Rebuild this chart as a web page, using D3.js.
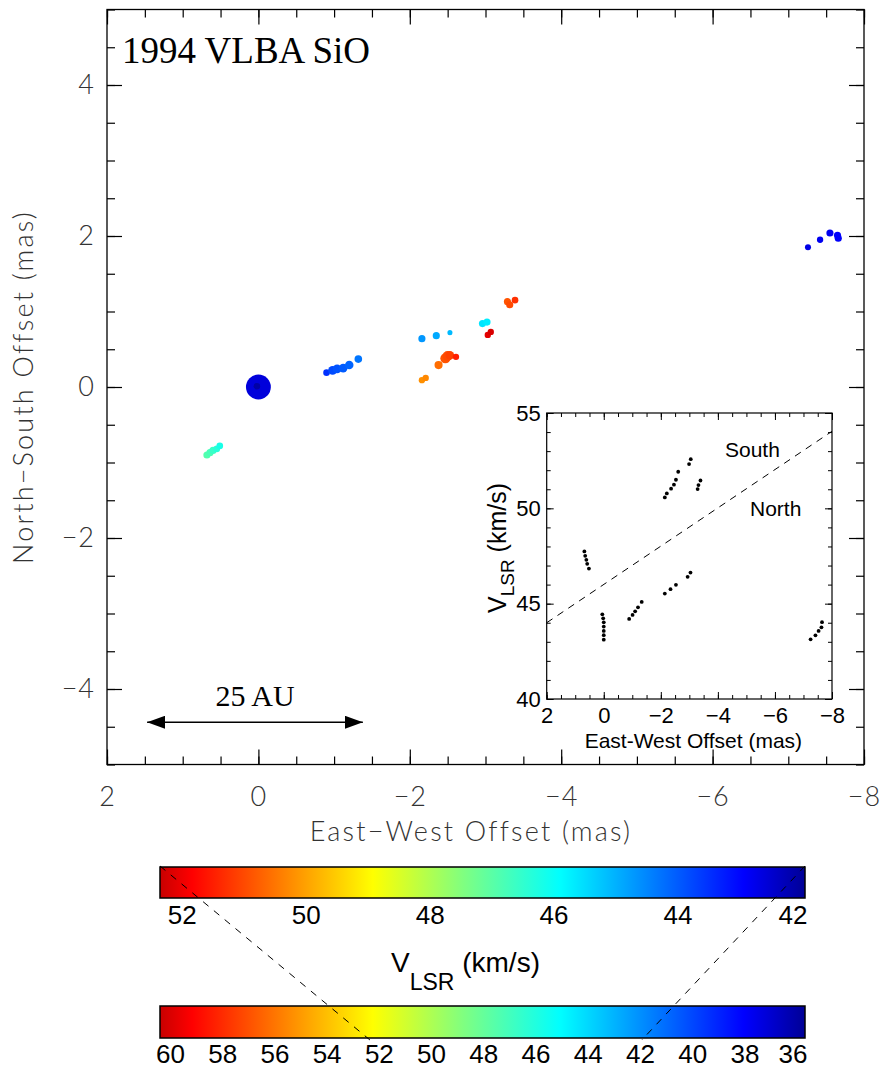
<!DOCTYPE html>
<html lang="en">
<head>
<meta charset="UTF-8">
<title>1994 VLBA SiO</title>
<script src="https://d3js.org/d3.v7.min.js"></script>
<style>
  body { margin: 0; background: #fff; }
  svg { display: block; }
  .idl text { font-family: "Lato", "DejaVu Sans", sans-serif; font-weight: 300; font-size: 27px; fill: #333; letter-spacing: 1px; }
  .idl .title { letter-spacing: 2.2px; }
  .helv { font-family: "Liberation Sans", Arial, sans-serif; fill: #000; }
  .serif { font-family: "Liberation Serif", "Times New Roman", serif; fill: #000; }
</style>
</head>
<body>
<svg id="chart" width="884" height="1068"></svg>
<script>
// ---- main map: maser spots (East-West offset, North-South offset, V_LSR, flux) ----
const spotX    = [0.68, 0.64, 0.60, 0.55, 0.51,
                  0.00, 0.02,
                  -0.90, -0.98, -1.04, -1.12, -1.20, -1.32,
                  -2.16, -2.35, -2.53,
                  -2.96, -3.02,
                  -2.16, -2.21, -2.38, -2.47, -2.50, -2.53, -2.61,
                  -3.03, -3.07,
                  -3.29, -3.32, -3.39,
                  -7.26, -7.42, -7.55, -7.65, -7.66];
const spotY    = [-0.90, -0.87, -0.84, -0.82, -0.78,
                  0.00, 0.01,
                  0.19, 0.22, 0.24, 0.25, 0.29, 0.37,
                  0.64, 0.68, 0.72,
                  0.84, 0.86,
                  0.09, 0.12, 0.29, 0.38, 0.41, 0.42, 0.40,
                  0.69, 0.73,
                  1.13, 1.09, 1.15,
                  1.85, 1.95, 2.04, 2.01, 1.97];
const spotV    = [46.9, 46.8, 46.6, 46.4, 46.2,
                  42.6, 42.1,
                  43.5, 43.8, 43.9, 44.0, 44.1, 44.3,
                  44.7, 44.9, 45.1,
                  45.6, 45.7,
                  50.2, 50.3, 50.6, 50.9, 51.0, 51.1, 51.5,
                  52.1, 52.2,
                  50.9, 51.0, 51.3,
                  42.7, 42.8, 42.8, 42.9, 42.9];
const spotFlux = [1.4, 1.4, 1.4, 1.2, 1.2,
                  17, 1.2,
                  1.2, 2.2, 2.2, 2.0, 2.0, 1.6,
                  1.4, 1.4, 0.7,
                  1.4, 1.4,
                  1.1, 1.1, 1.8, 2.8, 2.8, 2.0, 1.1,
                  1.1, 1.1,
                  1.4, 1.4, 1.2,
                  1.0, 1.1, 1.4, 1.4, 1.4];

// ---- inset: V_LSR against East-West offset ----
const insetX = [0.68, 0.65, 0.61, 0.58, 0.52,
                0.05, 0.02, 0.00, 0.00, 0.00, 0.00, 0.00,
                -0.89, -1.01, -1.10, -1.20, -1.33,
                -2.14, -2.21, -2.36, -2.46, -2.53, -2.61,
                -2.99, -3.05,
                -3.29, -3.32, -3.39,
                -2.14, -2.34, -2.53,
                -2.94, -3.04,
                -7.25, -7.42, -7.53, -7.63, -7.65];
const insetV = [47.74, 47.51, 47.30, 47.09, 46.84,
                44.44, 44.23, 44.02, 43.80, 43.57, 43.35, 43.11,
                44.20, 44.41, 44.60, 44.81, 45.09,
                50.57, 50.78, 51.03, 51.24, 51.50, 51.92,
                52.32, 52.58,
                51.01, 51.22, 51.46,
                45.53, 45.76, 45.99,
                46.41, 46.63,
                43.13, 43.34, 43.57, 43.76, 44.03];
const dividerX = [2, -8];
const dividerV = [44.0, 54.04];

// ---- colour bars ----
const barTopDomain = [52.36, 41.95];
const barTopTicks = [52, 50, 48, 46, 44, 42];
const barBottomDomain = [60.4, 35.7];
const barBottomTicks = [60, 58, 56, 54, 52, 50, 48, 46, 44, 42, 40, 38, 36];

// colour table (fraction from the blue end, colour)
const ctStops = [0, 0.095, 0.38, 0.53, 0.67, 0.77, 0.95, 1];
const ctColors = ["#000096", "#0000ff", "#00ffff", "#80ff80", "#ffff00", "#ffa500", "#ff0000", "#c80000"];

const svg = d3.select("#chart");
const defs = svg.append("defs");

// colour map for velocities (top bar range)
const tScale = d3.scaleLinear().domain([barTopDomain[1], barTopDomain[0]]).range([0, 1]).clamp(true);
const ct = d3.scaleLinear().domain(ctStops).range(ctColors).interpolate(d3.interpolateRgb);
const vColor = v => ct(tScale(v));

// ================= main panel =================
const M = {left: 107, right: 864, top: 9.5, bottom: 764.5};
const x = d3.scaleLinear().domain([2, -8]).range([M.left, M.right]);
const y = d3.scaleLinear().domain([-5, 5]).range([M.bottom, M.top]);
const r = d3.scaleSqrt().domain([0, 20]).range([0, 13.5]);

const fmtMinus = d => d < 0 ? "\u2212" + Math.abs(d) : String(d);
const majX = d3.range(-8, 2.01, 2), minX = d3.range(-8, 2.01, 0.5);
const majY = d3.range(-4, 4.01, 2), minY = d3.range(-5, 5.01, 0.5);

const axes = svg.append("g").attr("class", "idl");
function addAxis(axis, tf) {
  const g = axes.append("g").attr("transform", tf).call(axis);
  g.select(".domain").remove();
  g.selectAll(".tick line").attr("stroke", "#000").attr("stroke-width", 1.2);
  g.attr("font-family", null).attr("font-size", null);
  g.selectAll(".tick text").attr("fill", null);
  return g;
}
addAxis(d3.axisBottom(x).tickValues(minX).tickSize(-8).tickFormat(""), `translate(0,${M.bottom})`);
addAxis(d3.axisBottom(x).tickValues(majX).tickSize(-15).tickPadding(22).tickFormat(fmtMinus), `translate(0,${M.bottom})`);
addAxis(d3.axisTop(x).tickValues(minX).tickSize(-8).tickFormat(""), `translate(0,${M.top})`);
addAxis(d3.axisTop(x).tickValues(majX).tickSize(-15).tickFormat(""), `translate(0,${M.top})`);
addAxis(d3.axisLeft(y).tickValues(minY).tickSize(-8).tickFormat(""), `translate(${M.left},0)`);
addAxis(d3.axisLeft(y).tickValues(majY).tickSize(-15).tickPadding(12).tickFormat(fmtMinus), `translate(${M.left},0)`);
addAxis(d3.axisRight(y).tickValues(minY).tickSize(-8).tickFormat(""), `translate(${M.right},0)`);
addAxis(d3.axisRight(y).tickValues(majY).tickSize(-15).tickFormat(""), `translate(${M.right},0)`);

svg.append("rect")
  .attr("x", M.left).attr("y", M.top)
  .attr("width", M.right - M.left).attr("height", M.bottom - M.top)
  .attr("fill", "none").attr("stroke", "#000").attr("stroke-width", 1.3);

axes.append("text").attr("class", "title").attr("x", 471).attr("y", 841).attr("text-anchor", "middle")
  .text("East\u2212West Offset (mas)");
axes.append("text").attr("class", "title").attr("transform", `translate(33,${y(0)}) rotate(-90)`).attr("text-anchor", "middle")
  .text("North\u2212South Offset (mas)");

svg.append("text").attr("class", "serif").attr("x", 122).attr("y", 63)
  .attr("font-size", 37).text("1994 VLBA SiO");

// scale bar: 25 AU
defs.append("marker").attr("id", "head").attr("viewBox", "0 0 18 13")
  .attr("refX", 18).attr("refY", 6.5).attr("markerWidth", 18).attr("markerHeight", 13)
  .attr("markerUnits", "userSpaceOnUse").attr("orient", "auto-start-reverse")
  .append("path").attr("d", "M0,0 L18,6.5 L0,13 Z").attr("fill", "#000");
const auY = -4.44, auX = [1.47, -1.38];
svg.append("line")
  .attr("x1", x(auX[0])).attr("x2", x(auX[1])).attr("y1", y(auY)).attr("y2", y(auY))
  .attr("stroke", "#000").attr("stroke-width", 1.5)
  .attr("marker-start", "url(#head)").attr("marker-end", "url(#head)");
svg.append("text").attr("class", "serif").attr("x", x((auX[0] + auX[1]) / 2)).attr("y", 706)
  .attr("text-anchor", "middle").attr("font-size", 30).text("25 AU");

// spots
const spots = spotX.map((d, i) => ({x: d, y: spotY[i], v: spotV[i], f: spotFlux[i]}));
svg.append("g").selectAll("circle").data(spots).join("circle")
  .attr("cx", d => x(d.x)).attr("cy", d => y(d.y)).attr("r", d => r(d.f))
  .attr("fill", d => vColor(d.v));

// ================= inset =================
const I = {left: 546.7, right: 832, top: 413, bottom: 699};
const ix = d3.scaleLinear().domain([2, -8]).range([I.left, I.right]);
const iy = d3.scaleLinear().domain([40, 55]).range([I.bottom, I.top]);
const inset = svg.append("g");
inset.append("rect").attr("x", I.left).attr("y", I.top)
  .attr("width", I.right - I.left).attr("height", I.bottom - I.top)
  .attr("fill", "#fff");

function addInsetAxis(axis, tf) {
  const g = inset.append("g").attr("transform", tf).call(axis);
  g.select(".domain").remove();
  g.attr("font-family", null).attr("font-size", null);
  g.selectAll(".tick line").attr("stroke", "#000").attr("stroke-width", 1);
  g.selectAll(".tick text").attr("class", "helv").attr("font-size", 22);
  return g;
}
const iMajX = d3.range(-8, 2.01, 2), iMinX = d3.range(-8, 2.01, 0.5);
const iMajY = d3.range(40, 55.01, 5), iMinY = d3.range(40, 55.01, 1);
addInsetAxis(d3.axisBottom(ix).tickValues(iMinX).tickSize(-4).tickFormat(""), `translate(0,${I.bottom})`);
addInsetAxis(d3.axisBottom(ix).tickValues(iMajX).tickSize(-7).tickPadding(8).tickFormat(d3.format("d")), `translate(0,${I.bottom})`);
addInsetAxis(d3.axisTop(ix).tickValues(iMinX).tickSize(-4).tickFormat(""), `translate(0,${I.top})`);
addInsetAxis(d3.axisTop(ix).tickValues(iMajX).tickSize(-7).tickFormat(""), `translate(0,${I.top})`);
addInsetAxis(d3.axisLeft(iy).tickValues(iMinY).tickSize(-4).tickFormat(""), `translate(${I.left},0)`);
addInsetAxis(d3.axisLeft(iy).tickValues(iMajY).tickSize(-7).tickPadding(6).tickFormat(d3.format("d")), `translate(${I.left},0)`);
addInsetAxis(d3.axisRight(iy).tickValues(iMinY).tickSize(-4).tickFormat(""), `translate(${I.right},0)`);
addInsetAxis(d3.axisRight(iy).tickValues(iMajY).tickSize(-7).tickFormat(""), `translate(${I.right},0)`);

inset.append("rect").attr("x", I.left).attr("y", I.top)
  .attr("width", I.right - I.left).attr("height", I.bottom - I.top)
  .attr("fill", "none").attr("stroke", "#000").attr("stroke-width", 1.2);

inset.append("line")
  .attr("x1", ix(dividerX[0])).attr("y1", iy(dividerV[0]))
  .attr("x2", ix(dividerX[1])).attr("y2", iy(dividerV[1]))
  .attr("stroke", "#000").attr("stroke-width", 1).attr("stroke-dasharray", "7,6");

inset.append("g").selectAll("circle").data(insetX.map((d, i) => [d, insetV[i]])).join("circle")
  .attr("cx", d => ix(d[0])).attr("cy", d => iy(d[1])).attr("r", 1.9).attr("fill", "#000");

inset.append("text").attr("class", "helv").attr("x", 725).attr("y", 457).attr("font-size", 21).text("South");
inset.append("text").attr("class", "helv").attr("x", 750).attr("y", 516).attr("font-size", 21).text("North");
inset.append("text").attr("class", "helv").attr("x", (I.left + I.right) / 2 + 4).attr("y", 748)
  .attr("text-anchor", "middle").attr("font-size", 21).text("East-West Offset (mas)");
const vl = inset.append("text").attr("class", "helv")
  .attr("transform", `translate(506,613) rotate(-90)`).attr("font-size", 25);
vl.append("tspan").text("V");
vl.append("tspan").attr("dy", 8).attr("font-size", 19).text("LSR");
vl.append("tspan").attr("dy", -8).text(" (km/s)");

// ================= colour bars =================
const barL = 160, barR = 805;
function colourBar(domain, ticks, top, h, labelY, id) {
  const s = d3.scaleLinear().domain(domain).range([barL, barR]);
  const grad = defs.append("linearGradient").attr("id", id)
    .attr("x1", "0%").attr("x2", "100%").attr("y1", "0%").attr("y2", "0%");
  // red end on the left: stops in ascending offset order
  d3.range(ctStops.length - 1, -1, -1).forEach(i => {
    grad.append("stop").attr("offset", (1 - ctStops[i]) * 100 + "%").attr("stop-color", ctColors[i]);
  });
  svg.append("rect").attr("x", barL).attr("y", top).attr("width", barR - barL).attr("height", h)
    .attr("fill", `url(#${id})`).attr("stroke", "#000").attr("stroke-width", 1.5);
  svg.append("g").selectAll("text").data(ticks).join("text")
    .attr("class", "helv").attr("font-size", 26)
    .attr("x", d => Math.min(s(d), barR - 12)).attr("y", labelY)
    .attr("text-anchor", "middle").text(d => d);
  return s;
}
const sTop = colourBar(barTopDomain, barTopTicks, 867, 31, 924, "gTop");
const sBot = colourBar(barBottomDomain, barBottomTicks, 1006, 32, 1063, "gBot");

// dashed lines linking the top bar range to the bottom bar
svg.append("g").selectAll("line").data(barTopDomain).join("line")
  .attr("x1", d => sTop(d)).attr("y1", 866)
  .attr("x2", d => sBot(d)).attr("y2", 1040)
  .attr("stroke", "#000").attr("stroke-width", 1).attr("stroke-dasharray", "7,7");

const lbl = svg.append("text").attr("class", "helv").attr("x", 391).attr("y", 972).attr("font-size", 28);
lbl.append("tspan").text("V");
lbl.append("tspan").attr("dy", 18).attr("font-size", 23).text("LSR");
lbl.append("tspan").attr("dy", -18).text(" (km/s)");
</script>
</body>
</html>
